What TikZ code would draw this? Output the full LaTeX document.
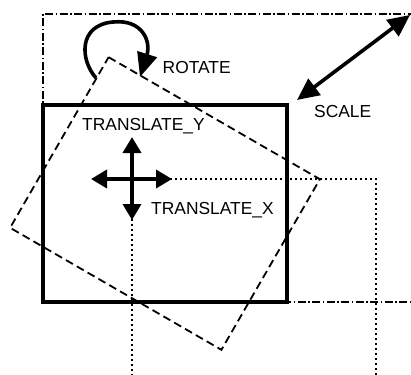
\documentclass[tikz,border=0pt]{standalone}
\usepackage{fontspec}
\setmainfont{Liberation Sans}
\usetikzlibrary{arrows.meta}
\begin{document}
\begin{tikzpicture}[x=1pt,y=-1pt,
  lbl/.style={anchor=base west, inner sep=0pt, font=\fontsize{17.4}{20}\selectfont},
  solidbox/.style={line width=3.8pt},
  scalebox/.style={line width=1.8pt, dash pattern=on 8pt off 2.5pt on 1.5pt off 2.5pt},
  rotbox/.style={line width=1.8pt, dash pattern=on 8pt off 4.5pt},
  transbox/.style={line width=2.2pt, dash pattern=on 2pt off 3pt},
  bigtip/.style={-{Triangle[length=24pt,width=20pt]}},
  arrowline/.style={line width=3.6pt},
  crossarrow/.style={line width=3.6pt, -{Triangle[length=16pt,width=18pt]}}
]
\useasboundingbox (0,0) rectangle (411,374);
\clip (0,0) rectangle (411,374);

% coordinates
\coordinate (rtl) at (108.6,57.2);
\coordinate (rtr) at (319.9,179.2);
\coordinate (rbr) at (221.4,349.8);
\coordinate (rbl) at (10.1,227.8);

% scaled box
\draw[scalebox] (43,302) -- (43,14) -- (430,14) -- (430,302) -- cycle;
% translated box
\draw[transbox] (132,179) rectangle (376,390);
% rotated box
\draw[rotbox] (rtl) -- (rtr) -- (rbr) -- (rbl) -- cycle;
% original box
\draw[solidbox] (43,105) rectangle (287,302);

% scale arrow
\coordinate (s1) at (297,100);
\coordinate (s2) at (410,15);
\draw[arrowline, {Triangle[length=22pt,width=20pt]}-{Triangle[length=22pt,width=20pt]}] (s1) -- (s2);

% rotate arrow
\coordinate (r0) at (96,78);
\coordinate (r1) at (113,22);
\coordinate (r2) at (140,77);
\draw[arrowline, bigtip] (r0) .. controls (80,60) and (78,25) .. (r1)
  .. controls (143,19) and (151,42) .. (r2);

% translate cross
\coordinate (c) at (132,179);
\coordinate (cu) at (132,137);
\coordinate (cd) at (132,220);
\coordinate (cl) at (91,179);
\coordinate (cr) at (172,179);
\draw[crossarrow] (c) -- (cu);
\draw[crossarrow] (c) -- (cd);
\draw[crossarrow] (c) -- (cl);
\draw[crossarrow] (c) -- (cr);

% labels
\node[lbl] (trot) at (162.5,74) {ROTATE};
\node[lbl] (tscale) at (314,117.3) {SCALE};
\node[lbl] (ty) at (82,130.5) {TRANSLATE\_Y};
\node[lbl] (tx) at (151,214) {TRANSLATE\_X};
\end{tikzpicture}
\end{document}
